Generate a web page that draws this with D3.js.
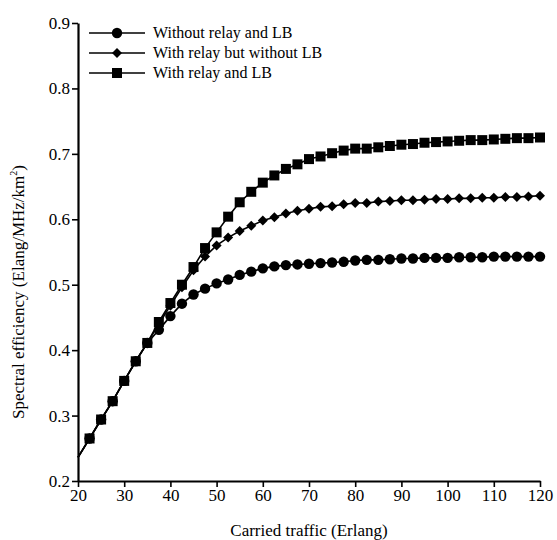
<!DOCTYPE html>
<html>
<head>
<meta charset="utf-8">
<script src="https://cdn.jsdelivr.net/npm/d3@7"></script>
<style>
  body { margin: 0; background: #fff; }
</style>
</head>
<body>
<svg id="chart" width="557" height="540"></svg>
<script>
// carried traffic (Erlang), one point every 2.5
var traffic = [20, 22.5, 25, 27.5, 30, 32.5, 35, 37.5, 40, 42.5, 45, 47.5, 50, 52.5, 55, 57.5,
    60, 62.5, 65, 67.5, 70, 72.5, 75, 77.5, 80, 82.5, 85, 87.5, 90, 92.5, 95, 97.5,
    100, 102.5, 105, 107.5, 110, 112.5, 115, 117.5, 120];

var noRelay = [0.236, 0.265, 0.294, 0.322, 0.353, 0.383, 0.411, 0.431, 0.452, 0.471, 0.485, 0.494,
    0.502, 0.508, 0.515, 0.520, 0.525, 0.528, 0.530, 0.531, 0.532, 0.533, 0.534, 0.535,
    0.537, 0.538, 0.538, 0.539, 0.540, 0.540, 0.541, 0.541, 0.541, 0.542, 0.542, 0.542,
    0.543, 0.543, 0.543, 0.543, 0.543];

var relayNoLB = [0.236, 0.265, 0.294, 0.322, 0.353, 0.383, 0.411, 0.440, 0.468, 0.496, 0.522, 0.543,
    0.560, 0.572, 0.582, 0.590, 0.598, 0.603, 0.609, 0.613, 0.616, 0.619, 0.620, 0.623,
    0.625, 0.625, 0.627, 0.628, 0.629, 0.629, 0.630, 0.631, 0.631, 0.632, 0.632, 0.633,
    0.633, 0.634, 0.634, 0.635, 0.636];

var relayLB = [0.236, 0.265, 0.294, 0.322, 0.353, 0.383, 0.411, 0.443, 0.472, 0.500, 0.527, 0.556,
    0.580, 0.604, 0.626, 0.642, 0.656, 0.667, 0.677, 0.684, 0.692, 0.696, 0.701, 0.705,
    0.708, 0.708, 0.710, 0.712, 0.714, 0.715, 0.717, 0.718, 0.719, 0.720, 0.721, 0.721,
    0.722, 0.723, 0.724, 0.724, 0.725];

var xTicks = [20, 30, 40, 50, 60, 70, 80, 90, 100, 110, 120];
var yTicks = [0.2, 0.3, 0.4, 0.5, 0.6, 0.7, 0.8, 0.9];

var FONT = "Liberation Serif, Times New Roman, serif";

// diamond = square turned 45 degrees
var series = [
    { name: "Without relay and LB", values: noRelay, symbol: d3.symbolCircle, size: 85, rot: 0 },
    { name: "With relay but without LB", values: relayNoLB, symbol: d3.symbolSquare, size: 50, rot: 45 },
    { name: "With relay and LB", values: relayLB, symbol: d3.symbolSquare, size: 100, rot: 0 }
];

var svg = d3.select("#chart");

var x = d3.scaleLinear().domain([20, 120]).range([78, 540]);
var y = d3.scaleLinear().domain([0.2, 0.9]).range([481, 23]);

// axes
var xAxis = svg.append("g")
    .attr("transform", "translate(0,481)")
    .call(d3.axisBottom(x).tickValues(xTicks).tickSize(6).tickPadding(2).tickSizeOuter(0));
var yAxis = svg.append("g")
    .attr("transform", "translate(78,0)")
    .call(d3.axisLeft(y).tickValues(yTicks).tickSize(6).tickPadding(2).tickSizeOuter(0)
        .tickFormat(d3.format(".1f")));

[xAxis, yAxis].forEach(function (a) {
    a.attr("font-family", FONT).attr("font-size", 17);
    a.select(".domain").attr("stroke", "#000").attr("stroke-width", 2.2);
    a.selectAll(".tick line").attr("stroke", "#000").attr("stroke-width", 1.6);
    a.selectAll(".tick text").attr("fill", "#000");
});

// lines + markers
var line = d3.line()
    .x(function (d, i) { return x(traffic[i]) })
    .y(function (d) { return y(d) });

series.forEach(function (s) {
    svg.append("path")
        .datum(s.values)
        .attr("fill", "none")
        .attr("stroke", "#000")
        .attr("stroke-width", 1.6)
        .attr("d", line);

    // first point sits on the axis, no marker drawn there
    svg.selectAll(null)
        .data(s.values.slice(1))
        .enter()
        .append("path")
        .attr("d", d3.symbol().type(s.symbol).size(s.size))
        .attr("transform", function (d, i) {
            return "translate(" + x(traffic[i + 1]) + "," + y(d) + ") rotate(" + s.rot + ")";
        })
        .attr("fill", "#000");
});

// legend
var legend = svg.append("g");
series.forEach(function (s, i) {
    var ly = 33 + i * 20;
    legend.append("line")
        .attr("x1", 89).attr("x2", 145)
        .attr("y1", ly).attr("y2", ly)
        .attr("stroke", "#000").attr("stroke-width", 1.6);
    legend.append("path")
        .attr("d", d3.symbol().type(s.symbol).size(s.size))
        .attr("transform", "translate(117," + ly + ") rotate(" + s.rot + ")")
        .attr("fill", "#000");
    legend.append("text")
        .attr("x", 153).attr("y", ly + 5)
        .attr("font-family", FONT)
        .attr("font-size", 16)
        .text(s.name);
});

// axis titles
svg.append("text")
    .attr("x", 309).attr("y", 536)
    .attr("text-anchor", "middle")
    .attr("font-family", FONT)
    .attr("font-size", 17)
    .text("Carried traffic (Erlang)");

var yt = svg.append("text")
    .attr("transform", "translate(24,292) rotate(-90)")
    .attr("text-anchor", "middle")
    .attr("font-family", FONT)
    .attr("font-size", 17);
yt.append("tspan").text("Spectral efficiency (Elang/MHz/km");
yt.append("tspan").attr("dy", -7).attr("font-size", 10).text("2");
yt.append("tspan").attr("dy", 7).text(")");
</script>
</body>
</html>
